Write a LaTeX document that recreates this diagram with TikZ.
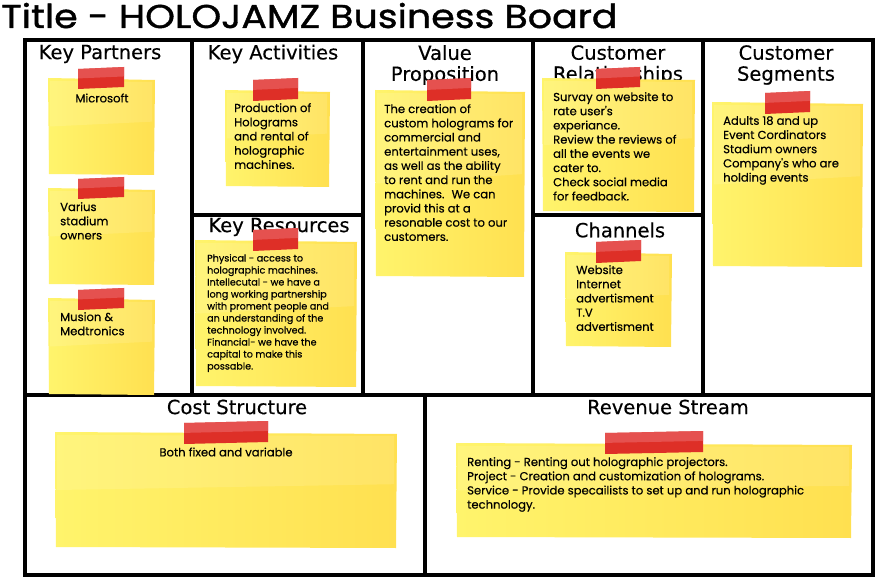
\documentclass[tikz,border=0pt]{standalone}
\usepackage{fontspec}
\setmainfont{Poppins}
\newfontfamily\titlefont[FakeStretch=1.15,FakeBold=1.2]{Poppins}
\newfontfamily\headfont[FakeBold=0.3]{DejaVu Sans}
\newfontfamily\notefont[FakeBold=0.4]{Poppins}

\definecolor{noteA}{HTML}{FFF46C}
\definecolor{noteB}{HTML}{FFE050}
\definecolor{tapeRed}{HTML}{DE2F27}
\definecolor{tapeLight}{HTML}{E86060}

% sticky note: x1 y1 x2 y2 (slightly skewed corners)
\newcommand\postit[4]{%
  \shade[left color=noteA, right color=noteB]
    ({#1},{#2}) -- ({#3},{#2+2}) -- ({#3-1},{#4}) -- ({#1+1},{#4-1}) -- cycle;
  \fill[white, opacity=.12] ({#1+2},{#2+3}) -- ({#3-3},{#2+4}) -- ({#3-3},{#2+(#4-#2)*0.45}) -- ({#1+2},{#2+(#4-#2)*0.5}) -- cycle;
}
% strip of tape: x1 y1 x2 y2
\newcommand\tapestrip[4]{%
  \fill[tapeRed] ({#1},{#2+2}) -- ({#3},{#2}) -- ({#3},{#4-1}) -- ({#1},{#4+1}) -- cycle;
  \fill[tapeLight, opacity=.7] ({#1},{#2+2}) -- ({#3},{#2}) -- ({#3},{#2+(#4-#2)*0.45}) -- ({#1},{#2+(#4-#2)*0.45+2}) -- cycle;
}

\tikzset{
  frame/.style={line width=4pt, black},
  heading/.style={font=\headfont\fontsize{19.5}{21}\selectfont, align=center, inner sep=0pt},
  notetext/.style={font=\notefont\fontsize{11.6}{14.2}\selectfont, align=left, anchor=north west, inner sep=0pt},
  smallnote/.style={font=\notefont\fontsize{9.6}{12}\selectfont, align=left, anchor=north west, inner sep=0pt},
}

\begin{document}
\begin{tikzpicture}[x=1pt, y=-1pt]
\useasboundingbox (0,0) rectangle (876,580);
\fill[white] (0,0) rectangle (876,580);

% title
\node[anchor=base west, inner sep=0pt, font=\titlefont\fontsize{33}{36}\selectfont] (title) at (1,28) {Title - HOLOJAMZ Business Board};

% board frame and dividers
\draw[frame] (25,40) rectangle (873,575);
\draw[frame] (25,395) -- (873,395);
\draw[frame] (192,40) -- (192,395);
\draw[frame] (363,40) -- (363,395);
\draw[frame] (533,40) -- (533,395);
\draw[frame] (703,40) -- (703,395);
\draw[frame] (192,215) -- (363,215);
\draw[frame] (533,215) -- (703,215);
\draw[frame] (425,395) -- (425,575);

% headings
\node[heading] (hkp) at (100,54) {Key Partners};
\node[heading] (hka) at (273,54) {Key Activities};
\node[heading] (hvp) at (445,65) {Value\\Proposition};
\node[heading] (hcr) at (618,65) {Customer\\Relationships};
\node[heading] (hcs) at (786,65) {Customer\\Segments};
\node[heading] (hkr) at (279,227) {Key Resources};
\node[heading] (hch) at (620,230) {Channels};
\node[heading] (hcost) at (237,407) {Cost Structure};
\node[heading] (hrev) at (668,407) {Revenue Stream};

% Key Partners notes
\postit{48}{78}{155}{175}
\tapestrip{78}{67}{124}{88}
\node[font=\notefont\fontsize{11.6}{14}\selectfont, inner sep=0pt] (kp1) at (102,98) {Microsoft};

\postit{48}{188}{155}{285}
\tapestrip{78}{177}{124}{198}
\node[notetext] (kp2) at (60,202) {Varius\\stadium\\owners};

\postit{48}{298}{155}{395}
\tapestrip{78}{288}{124}{309}
\node[notetext] (kp3) at (60,312) {Musion \&\\Medtronics};

% Key Activities
\postit{225}{90}{330}{187}
\tapestrip{253}{78}{298}{100}
\node[notetext] (ka) at (234,103) {Production of\\Holograms\\and rental of\\holographic\\machines.};

% Key Resources
\postit{195}{240}{357}{387}
\tapestrip{253}{228}{298}{250}
\node[smallnote] (kr) at (207,254) {Physical - access to\\holographic machines.\\Intellecutal - we have a\\long working partnership\\with proment people and\\an understanding of the\\technology involved.\\Financial- we have the\\capital to make this\\possable.};

% Value Proposition
\postit{375}{90}{525}{277}
\tapestrip{427}{78}{471}{100}
\node[notetext] (vp) at (384,104) {The creation of\\custom holograms for\\commercial and\\entertainment uses,\\as well as the ability\\to rent and run the\\machines.~ We can\\provid this at a\\resonable cost to our\\customers.};

% Customer Relationships
\postit{542}{78}{695}{212}
\tapestrip{596}{67}{640}{88}
\node[notetext] (cr) at (553,92) {Survay on website to\\rate user's\\experiance.\\Review the reviews of\\all the events we\\cater to.\\Check social media\\for feedback.};

% Channels
\postit{565}{252}{672}{347}
\tapestrip{596}{240}{641}{262}
\node[notetext] (ch) at (576,265) {Website\\Internet\\advertisment\\T.V\\advertisment};

% Customer Segments
\postit{712}{102}{863}{267}
\tapestrip{765}{91}{810}{113}
\node[notetext] (cs) at (723,116) {Adults 18 and up\\Event Cordinators\\Stadium owners\\Company's who are\\holding events};

% Cost Structure
\postit{55}{432}{397}{548}
\tapestrip{184}{421}{268}{443}
\node[font=\notefont\fontsize{11.6}{14}\selectfont, inner sep=0pt] (cost) at (226,452) {Both fixed and variable};

% Revenue Stream
\postit{456}{443}{852}{538}
\tapestrip{605}{431}{703}{453}
\node[notetext] (rev) at (467,457) {Renting - Renting out holographic projectors.\\Project - Creation and customization of holograms.\\Service - Provide specailists to set up and run holographic\\technology.};

\end{tikzpicture}
\end{document}
